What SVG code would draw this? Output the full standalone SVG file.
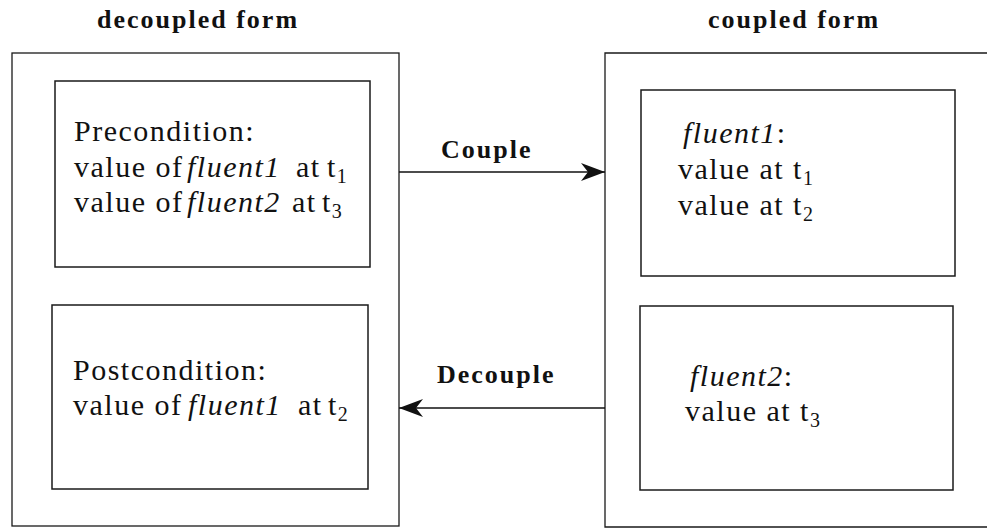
<svg xmlns="http://www.w3.org/2000/svg" width="987" height="531" viewBox="0 0 987 531">
<style>
.box{fill:none;stroke:#1a1a1a;stroke-width:1.5}
.obox{fill:none;stroke:#1a1a1a;stroke-width:1.3}
.h{font-family:"Liberation Serif",serif;font-weight:bold;font-size:26px;letter-spacing:2px;fill:#111}
.t{font-family:"Liberation Serif",serif;font-size:30px;letter-spacing:1.5px;fill:#111}
.i{font-style:italic}
.sub{font-size:20px;letter-spacing:0}
.edge{stroke:#111;stroke-width:1.5;fill:none}
</style>
<defs>
<marker id="arr" markerUnits="userSpaceOnUse" markerWidth="30" markerHeight="24" viewBox="-26 -12 30 24" refX="0" refY="0" orient="auto">
<path d="M0,0 L-24,-9 L-17,0 L-24,9 Z" fill="#111"/>
</marker>
</defs>
<g id="decoupled-form">
<text class="h" x="97" y="28">decoupled form</text>
<rect class="obox" x="12" y="53" width="387" height="473"/>
</g>
<g id="coupled-form">
<text class="h" x="708" y="28">coupled form</text>
<path class="obox" d="M990,53 H605 V527 H990"/>
</g>
<g id="precondition">
<rect class="box" x="55" y="81" width="315" height="186"/>
<text class="t" x="74" y="141">Precondition:</text>
<text class="t" y="177"><tspan x="74">value of</tspan><tspan class="i" x="187">fluent1</tspan><tspan x="296">at</tspan><tspan x="327">t</tspan><tspan class="sub" dy="6">1</tspan></text>
<text class="t" y="212"><tspan x="74">value of</tspan><tspan class="i" x="187">fluent2</tspan><tspan x="292">at</tspan><tspan x="322">t</tspan><tspan class="sub" dy="6">3</tspan></text>
</g>
<g id="postcondition">
<rect class="box" x="52" y="305" width="316" height="184"/>
<text class="t" x="73" y="380">Postcondition:</text>
<text class="t" y="415"><tspan x="73">value of</tspan><tspan class="i" x="188">fluent1</tspan><tspan x="298">at</tspan><tspan x="328">t</tspan><tspan class="sub" dy="6">2</tspan></text>
</g>
<g id="fluent1">
<rect class="box" x="641" y="90" width="314" height="186"/>
<text class="t" y="143"><tspan class="i" x="683">fluent1</tspan><tspan>:</tspan></text>
<text class="t" y="179"><tspan x="678">value at t</tspan><tspan class="sub" dy="6">1</tspan></text>
<text class="t" y="215"><tspan x="678">value at t</tspan><tspan class="sub" dy="6">2</tspan></text>
</g>
<g id="fluent2">
<rect class="box" x="640" y="306" width="313" height="184"/>
<text class="t" y="386"><tspan class="i" x="690">fluent2</tspan><tspan>:</tspan></text>
<text class="t" y="421"><tspan x="685">value at t</tspan><tspan class="sub" dy="6">3</tspan></text>
</g>
<g id="connectors">
<line class="edge" x1="399" y1="172" x2="605" y2="172" marker-end="url(#arr)"/>
<text class="h" x="441" y="158">Couple</text>
<line class="edge" x1="605" y1="408" x2="399" y2="408" marker-end="url(#arr)"/>
<text class="h" x="437" y="383">Decouple</text>
</g>
</svg>
